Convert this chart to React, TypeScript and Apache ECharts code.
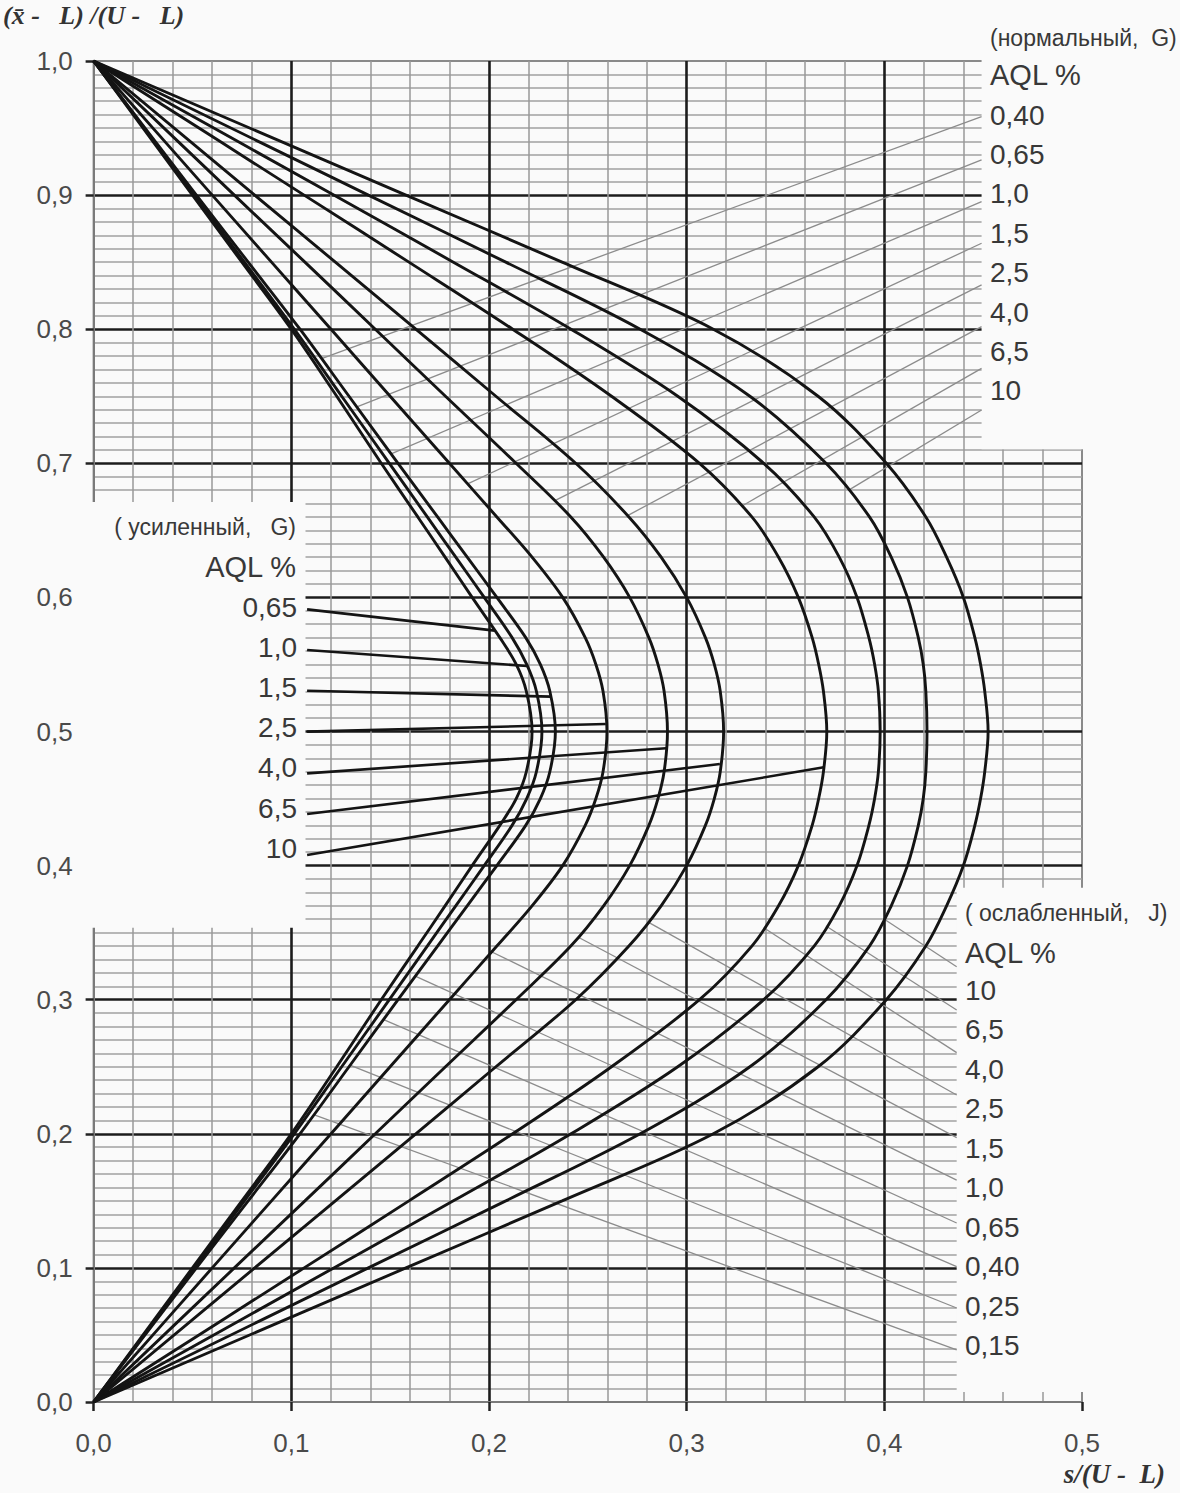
import React, { useEffect, useRef } from "react";
import * as echarts from "echarts";

const BG = "#fafafa";
const SANS = '"Liberation Sans", Arial, sans-serif';
const SERIF = '"Liberation Serif", "Times New Roman", serif';

// ordinate (x̄-L)/(U-L) levels at which each curve's abscissa s/(U-L) was read
const yLevels = [0, 0.1, 0.15, 0.2, 0.25, 0.3, 0.34, 0.37, 0.4, 0.43, 0.45, 0.47, 0.5,
  0.53, 0.55, 0.57, 0.6, 0.63, 0.66, 0.7, 0.75, 0.8, 0.85, 0.9, 1.0];

// acceptance curves, s/(U-L) at each yLevel
const curve1 = [0, 0.05, 0.075, 0.1, 0.123, 0.1455, 0.164, 0.1778, 0.1915, 0.2055, 0.2138, 0.2189, 0.2218,
  0.2189, 0.2138, 0.2055, 0.1915, 0.1778, 0.164, 0.1455, 0.123, 0.1, 0.075, 0.05, 0];
const curve2 = [0, 0.051, 0.0763, 0.1015, 0.1255, 0.1496, 0.1688, 0.1832, 0.1976, 0.2117, 0.2191, 0.224, 0.2268,
  0.224, 0.2191, 0.2117, 0.1976, 0.1832, 0.1688, 0.1496, 0.1255, 0.1015, 0.0763, 0.051, 0];
const curve3 = [0, 0.052, 0.0782, 0.1044, 0.1292, 0.154, 0.174, 0.189, 0.204, 0.2186, 0.226, 0.2308, 0.2336,
  0.2308, 0.226, 0.2186, 0.204, 0.189, 0.174, 0.154, 0.1292, 0.1044, 0.0782, 0.052, 0];
const curve4 = [0, 0.06, 0.09, 0.1201, 0.15, 0.18, 0.204, 0.2218, 0.2373, 0.2487, 0.2541, 0.2577, 0.2597,
  0.2577, 0.2541, 0.2487, 0.2373, 0.2218, 0.204, 0.18, 0.15, 0.1201, 0.09, 0.06, 0];
const curve5 = [0, 0.0712, 0.1069, 0.1425, 0.178, 0.2137, 0.2414, 0.258, 0.2712, 0.2809, 0.2855, 0.2886, 0.2903,
  0.2886, 0.2855, 0.2809, 0.2712, 0.258, 0.2414, 0.2137, 0.178, 0.1425, 0.1069, 0.0712, 0];
const curve6 = [0, 0.0815, 0.1223, 0.163, 0.2035, 0.2439, 0.2708, 0.2871, 0.3, 0.3095, 0.314, 0.317, 0.3187,
  0.317, 0.314, 0.3095, 0.3, 0.2871, 0.2708, 0.2439, 0.2035, 0.163, 0.1223, 0.0815, 0];
const curve7 = [0, 0.1065, 0.1595, 0.212, 0.262, 0.3065, 0.333, 0.3465, 0.3565, 0.3635, 0.3668, 0.3692, 0.3709,
  0.3692, 0.3668, 0.3635, 0.3565, 0.3465, 0.333, 0.3065, 0.262, 0.212, 0.1595, 0.1065, 0];
const curve8 = [0, 0.1215, 0.182, 0.2415, 0.2955, 0.339, 0.3645, 0.3772, 0.3862, 0.3922, 0.3951, 0.397, 0.3979,
  0.397, 0.3951, 0.3922, 0.3862, 0.3772, 0.3645, 0.339, 0.2955, 0.2415, 0.182, 0.1215, 0];
const curve9 = [0, 0.139, 0.2085, 0.2765, 0.332, 0.3705, 0.3925, 0.4035, 0.4117, 0.4172, 0.4197, 0.421, 0.4216,
  0.421, 0.4197, 0.4172, 0.4117, 0.4035, 0.3925, 0.3705, 0.332, 0.2765, 0.2085, 0.139, 0];
const curve10 = [0, 0.158, 0.237, 0.3135, 0.3665, 0.401, 0.421, 0.4315, 0.44, 0.4458, 0.4487, 0.4508, 0.4525,
  0.4508, 0.4487, 0.4458, 0.44, 0.4315, 0.421, 0.401, 0.3665, 0.3135, 0.237, 0.158, 0];
const curves = [curve1, curve2, curve3, curve4, curve5, curve6, curve7, curve8, curve9, curve10];

// tick labels
const xTickLabels = ["0,0", "0,1", "0,2", "0,3", "0,4", "0,5"];
const yTickLabels = ["0,0", "0,1", "0,2", "0,3", "0,4", "0,5", "0,6", "0,7", "0,8", "0,9", "1,0"];

// AQL label sets
const normalTitle = "(нормальный,  G)";
const tightenedTitle = "( усиленный,   G)";
const reducedTitle = "( ослабленный,   J)";
const aqlHeader = "AQL %";
const normalAQL = ["0,40", "0,65", "1,0", "1,5", "2,5", "4,0", "6,5", "10"];
const tightenedAQL = ["0,65", "1,0", "1,5", "2,5", "4,0", "6,5", "10"];
const reducedAQL = ["10", "6,5", "4,0", "2,5", "1,5", "1,0", "0,65", "0,40", "0,25", "0,15"];

// leader lines (data coordinates: [s/(U-L), (x̄-L)/(U-L)])
const normalFrom = [[0.1153, 0.7781], [0.1332, 0.742], [0.1505, 0.707], [0.1892, 0.6846], [0.2331, 0.672], [0.2701, 0.661], [0.3278, 0.668], [0.382, 0.68]];
const normalTo = [[0.4492, 0.9585], [0.4492, 0.9262], [0.4492, 0.8951], [0.4492, 0.8641], [0.4492, 0.833], [0.4492, 0.8019], [0.4492, 0.7708], [0.4492, 0.7397]];
const tightenedFrom = [[0.108, 0.5911], [0.108, 0.5608], [0.108, 0.5304], [0.108, 0.4999], [0.108, 0.4688], [0.108, 0.4385], [0.108, 0.4079]];
const tightenedTo = [[0.203, 0.5752], [0.2193, 0.5488], [0.2314, 0.526], [0.2591, 0.5056], [0.2896, 0.4875], [0.3168, 0.4758], [0.3694, 0.4733]];
const reducedFrom = [[0.4, 0.36], [0.3705, 0.355], [0.339, 0.3536], [0.281, 0.3575], [0.2452, 0.3466], [0.2015, 0.3356], [0.163, 0.3174], [0.147, 0.285], [0.13, 0.251], [0.112, 0.214]];
const reducedTo = [[0.4366, 0.3246], [0.4366, 0.2923], [0.4366, 0.2605], [0.4366, 0.2289], [0.4366, 0.1971], [0.4366, 0.1655], [0.4366, 0.1335], [0.4366, 0.1009], [0.4366, 0.0701], [0.4366, 0.0388]];

// areas of the grid left blank in the original: [x0, y0, x1, y1]
const blankRegions = [
  [0.4492, 0.7105, 0.5, 1.0],
  [0, 0.3537, 0.1072, 0.6712],
  [0.4366, 0.0075, 0.5, 0.3835],
];

function fmtTick(labels: string[], v: number) {
  const i = Math.round(v * 10);
  return labels[i] ?? "";
}

export default function App() {
  const ref = useRef<HTMLDivElement>(null);

  useEffect(() => {
    document.body.style.margin = "0";
    document.body.style.background = BG;
    if (!ref.current) return;
    const chart = echarts.init(ref.current, null, { renderer: "svg" });

    const texts: any[] = [];
    const addText = (text: string, x: number, y: number, size: number, align: string) => {
      texts.push({
        type: "text",
        x,
        y,
        z: 100,
        silent: true,
        style: {
          text,
          fill: "#383838",
          fontSize: size,
          fontFamily: SANS,
          align,
          verticalAlign: "middle",
        },
      });
    };
    // normal block (top right)
    addText(normalTitle, 990, 38, 23, "left");
    addText(aqlHeader, 990, 75, 29, "left");
    normalAQL.forEach((t, i) => addText(t, 990, 115 + i * 39.4, 28, "left"));
    // tightened block (left)
    addText(tightenedTitle, 296, 527, 23, "right");
    addText(aqlHeader, 296, 567, 29, "right");
    tightenedAQL.forEach((t, i) => addText(t, 297, 607 + i * 40.2, 28, "right"));
    // reduced block (bottom right)
    addText(reducedTitle, 965, 913, 23, "left");
    addText(aqlHeader, 965, 953, 29, "left");
    reducedAQL.forEach((t, i) => addText(t, 965, 990 + i * 39.5, 28, "left"));

    const curveSeries = curves.map((c, k) => ({
      name: "curve" + (k + 1),
      type: "line",
      data: c.map((s, i) => [s, yLevels[i]]),
      showSymbol: false,
      smooth: 0.35,
      silent: true,
      z: 4,
      lineStyle: { color: "#141414", width: 2.9 },
    }));

    const leaderSeries = (from: number[][], to: number[][], color: string, width: number, z: number) => ({
      type: "lines",
      coordinateSystem: "cartesian2d",
      silent: true,
      z,
      data: from.map((p, i) => ({ coords: [p, to[i]] })),
      lineStyle: { color, width, opacity: 1, curveness: 0 },
    });

    const option: any = {
      animation: false,
      backgroundColor: BG,
      grid: {
        left: 93,
        right: 98,
        top: 61,
        bottom: 91,
        show: true,
        borderColor: "#8a8a8a",
        borderWidth: 2,
        backgroundColor: "transparent",
      },
      xAxis: {
        type: "value",
        min: 0,
        max: 0.5,
        interval: 0.1,
        name: "s/(U -  L)",
        nameLocation: "end",
        nameGap: 83,
        nameTextStyle: {
          fontFamily: SERIF,
          fontStyle: "italic",
          fontWeight: "bold",
          fontSize: 27,
          color: "#333",
          align: "right",
          verticalAlign: "top",
          padding: [58, 0, 0, 0],
        },
        axisLine: { show: true, onZero: false, lineStyle: { color: "#7a7a7a", width: 2 } },
        axisTick: { show: true, length: 9, lineStyle: { color: "#222", width: 2.5 } },
        axisLabel: {
          formatter: (v: number) => fmtTick(xTickLabels, v),
          fontSize: 26,
          fontFamily: SANS,
          color: "#4a4a4a",
          margin: 28,
        },
        splitLine: { show: true, showMinLine: false, showMaxLine: false, lineStyle: { color: "#1c1c1c", width: 2.6 } },
        minorTick: { show: false, splitNumber: 5 },
        minorSplitLine: { show: true, lineStyle: { color: "#999999", width: 1.5 } },
      },
      yAxis: {
        type: "value",
        min: 0,
        max: 1,
        interval: 0.1,
        name: "(x\u0304 -   L) /(U -   L)",
        nameLocation: "end",
        nameGap: 33,
        nameTextStyle: {
          fontFamily: SERIF,
          fontStyle: "italic",
          fontWeight: "bold",
          fontSize: 26,
          color: "#333",
        },
        axisLine: { show: true, onZero: false, lineStyle: { color: "#7a7a7a", width: 2 } },
        axisTick: { show: true, length: 8, lineStyle: { color: "#222", width: 2.5 } },
        axisLabel: {
          formatter: (v: number) => fmtTick(yTickLabels, v),
          fontSize: 26,
          fontFamily: SANS,
          color: "#4a4a4a",
          margin: 21,
        },
        splitLine: { show: true, showMinLine: false, showMaxLine: false, lineStyle: { color: "#1c1c1c", width: 2.6 } },
        minorTick: { show: false, splitNumber: 10 },
        minorSplitLine: { show: true, lineStyle: { color: "#a0a0a0", width: 1.6 } },
      },
      series: [
        {
          type: "custom",
          silent: true,
          clip: false,
          z: 1,
          data: blankRegions,
          renderItem: (_p: any, api: any) => {
            const x0 = api.value(0), y0 = api.value(1), x1 = api.value(2), y1 = api.value(3);
            const a = api.coord([x0, y1]);
            const b = api.coord([x1, y0]);
            let left = a[0], top = a[1], right = b[0], bottom = b[1];
            if (x0 <= 0) left -= 12;
            if (x1 >= 0.5) right += 12;
            if (y1 >= 1) top -= 12;
            return {
              type: "rect",
              shape: { x: left, y: top, width: right - left, height: bottom - top },
              style: { fill: BG, stroke: null },
            };
          },
        },
        leaderSeries(normalFrom, normalTo, "#8c8c8c", 1.3, 2),
        leaderSeries(reducedFrom, reducedTo, "#8c8c8c", 1.3, 2),
        ...curveSeries,
        leaderSeries(tightenedFrom, tightenedTo, "#141414", 2.6, 5),
      ],
      graphic: { elements: texts },
    };

    chart.setOption(option);
    return () => chart.dispose();
  }, []);

  return <div ref={ref} style={{ width: 1180, height: 1493, background: BG }} />;
}
